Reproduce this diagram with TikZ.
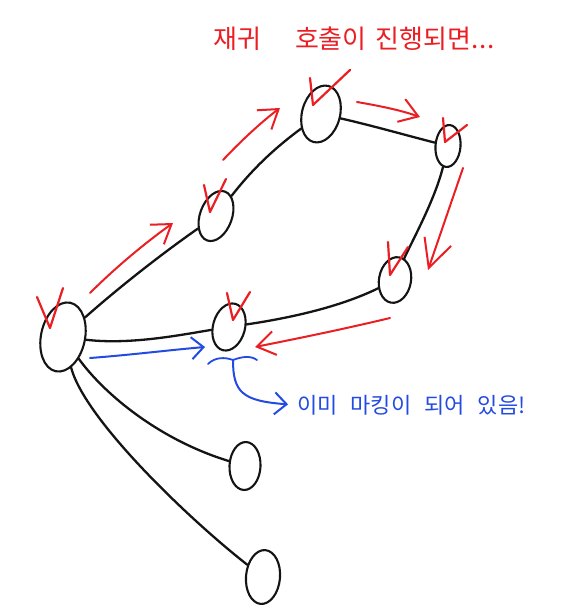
\documentclass[tikz,border=0pt]{standalone}
\usepackage{fontspec}
\newfontfamily\kr{Noto Sans CJK KR}
\usetikzlibrary{shapes.geometric,arrows.meta}
\definecolor{pen}{RGB}{20,20,20}
\definecolor{redpen}{RGB}{235,30,35}
\definecolor{bluepen}{RGB}{35,75,225}
\begin{document}
\begin{tikzpicture}[x=1pt,y=1pt,
  vert/.style={draw=pen, line width=2.1pt, ellipse, inner sep=0pt},
  edge/.style={draw=pen, line width=2.3pt, line cap=round},
  redarrow/.style={draw=redpen, line width=2pt, line cap=round, line join=round,
    -{Straight Barb[length=18pt,width=24pt,line width=2pt]}},
  bluearrow/.style={draw=bluepen, line width=2pt, line cap=round, line join=round,
    -{Straight Barb[length=12pt,width=22pt,line width=2pt]}},
  check/.style={draw=redpen, line width=2.2pt, line cap=round, line join=round},
  brace/.style={draw=bluepen, line width=1.8pt, line cap=round}]
\useasboundingbox (0,0) rectangle (561,-612);
\fill[white] (0,0) rectangle (561,-612);

% vertices
\node[vert, minimum width=44pt, minimum height=70pt, rotate=-12] (A) at (63,-337) {};
\node[vert, minimum width=32pt, minimum height=52pt, rotate=-20] (B) at (216,-216) {};
\node[vert, minimum width=38pt, minimum height=58pt, rotate=-15] (C) at (321,-114) {};
\node[vert, minimum width=25pt, minimum height=42pt, rotate=-5] (D) at (448,-146) {};
\node[vert, minimum width=32pt, minimum height=46pt, rotate=-10] (E) at (395,-280) {};
\node[vert, minimum width=32pt, minimum height=48pt, rotate=-15] (F) at (229,-327) {};
\node[vert, minimum width=31pt, minimum height=48pt, rotate=-3] (G) at (245,-466) {};
\node[vert, minimum width=34pt, minimum height=54pt, rotate=-5] (H) at (263,-577) {};

% edges
\draw[edge] (A) .. controls (125,-282) and (170,-248) .. (B);
\draw[edge] (B) .. controls (250,-172) and (272,-150) .. (C);
\draw[edge] (C) .. controls (370,-125) and (405,-135) .. (D);
\draw[edge] (D) .. controls (435,-200) and (410,-245) .. (E);
\draw[edge] (E) .. controls (340,-307) and (290,-318) .. (F);
\draw[edge] (A) .. controls (130,-345) and (180,-335) .. (F);
\draw[edge] (A) .. controls (105,-395) and (160,-440) .. (G);
\draw[edge] (A) .. controls (85,-420) and (190,-520) .. (H);

% check marks
\draw[check] (37,-297) -- (50,-328) -- (63,-288);
\draw[check] (204,-185) -- (210,-212) -- (226,-179);
\draw[check] (310,-78) -- (313,-105) -- (350,-70);
\draw[check] (443,-118) -- (445,-142) -- (467,-125);
\draw[check] (388,-242) -- (390,-275) -- (408,-247);
\draw[check] (227,-293) -- (233,-320) -- (250,-292);

% red traversal arrows
\draw[redarrow] (90,-293) .. controls (115,-268) and (145,-243) .. (173,-223);
\draw[redarrow] (223,-160) .. controls (240,-142) and (260,-123) .. (280,-108);
\draw[redarrow] (357,-102) .. controls (380,-106) and (400,-110) .. (420,-117);
\draw[redarrow, -{Straight Barb[length=28pt,width=28pt,line width=2pt]}] (463,-168) -- (428,-270);
\draw[redarrow] (390,-318) .. controls (340,-330) and (290,-340) .. (255,-347);

% blue annotation
\draw[bluearrow] (90,-358) .. controls (130,-355) and (170,-350) .. (205,-347);
\draw[brace] (208,-364) .. controls (215,-357) and (225,-357) .. (233,-360)
  .. controls (241,-357) and (250,-355) .. (257,-360);

% texts
\node[text=redpen, font=\kr\fontsize{26}{30}\selectfont, anchor=west, inner sep=0pt] (title) at (213,-39)
  {재귀\hspace{34pt}호출이\hspace{9pt}진행되면.\hspace{1pt}.\hspace{1pt}.};
\node[text=bluepen, font=\kr\fontsize{22}{26}\selectfont, anchor=west, inner sep=0pt] (note) at (297,-405)
  {이미\hspace{13pt}마킹이\hspace{13pt}되어\hspace{13pt}있음!};

\draw[bluearrow, shorten >=9pt] (233,-360) .. controls (233,-392) and (242,-401) .. (note.west);
\end{tikzpicture}
\end{document}
